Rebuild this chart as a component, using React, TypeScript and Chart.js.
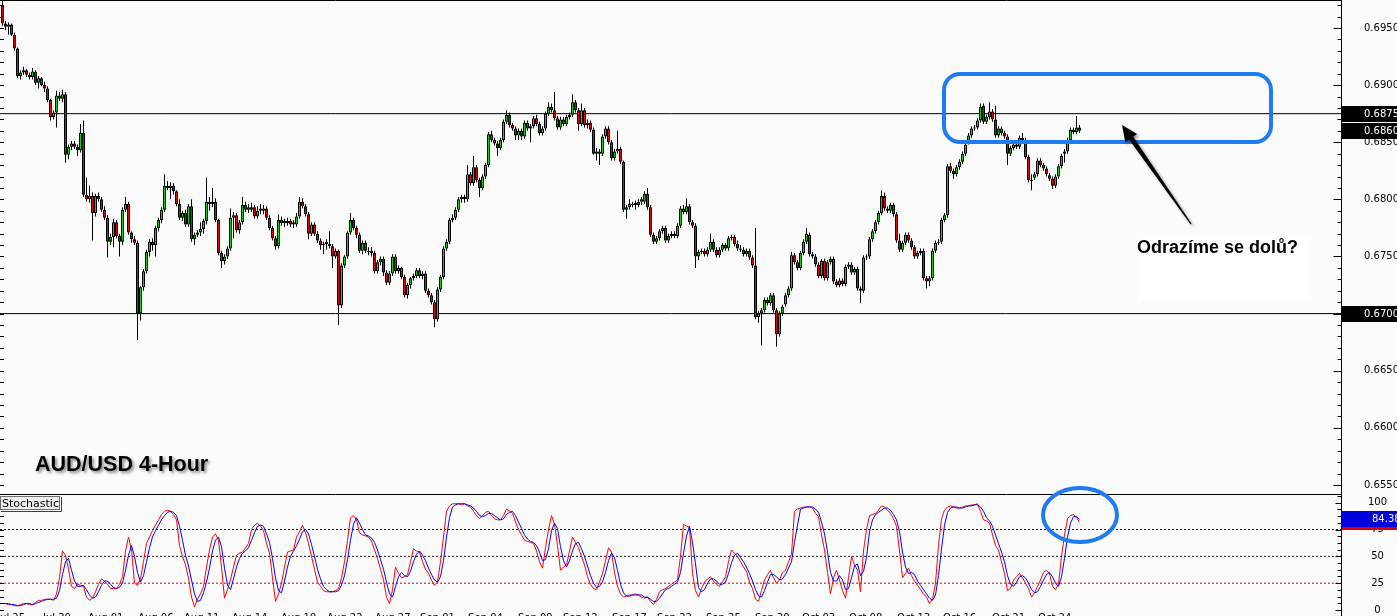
import React, { useEffect, useRef } from 'react';
import { Chart, registerables } from 'chart.js';

Chart.register(...registerables);

// ---------------- DATA ----------------
// AUD/USD 4-hour candles, prices in pips (value / 10000)
const openPips = [
  6970,6954,6951,6953,6944,6932,6908,6911,6913,6909,
  6907,6912,6902,6906,6900,6897,6887,6872,6876,6891,
  6888,6892,6839,6846,6849,6846,6843,6858,6804,6800,
  6803,6788,6803,6800,6791,6784,6763,6767,6780,6768,
  6763,6791,6796,6771,6765,6762,6700,6723,6737,6754,
  6763,6760,6775,6782,6791,6812,6810,6812,6807,6796,
  6784,6788,6778,6794,6765,6769,6771,6774,6781,6798,
  6796,6798,6782,6753,6746,6750,6757,
  6784,6786,6773,6780,6795,6791,6793,
  6793,6785,6790,6792,
  6792,6784,6775,6766,6759,6782,6779,6781,
  6781,6778,
  6778,6785,6798,6794,6787,6770,6778,6770,6764,6760,6761,
  6761,6759,6750,6755,6707,6742,6750,6771,6782,6775,6769,6755,6762,6755,
  6755,6753,6737,
  6745,6748,6736,6727,6735,6750,6737,6740,6732,6716,
  6725,6731,6733,6738,6733,6735,6720,6716,6710,6695,
  6721,6732,6757,6763,6782,6784,6791,6800,6802,6800,
  6822,6814,6828,6817,6810,6820,6830,6857,6852,6849,
  6845,6852,6868,6874,6865,6862,6856,6860,6855,6867,
  6862,6864,6871,6866,6858,6862,6875,6881,6878,6871,
  6863,6870,6866,6872,6874,6885,6878,6866,6878,6865,
  6867,6861,6840,6842,6840,6855,6862,6850,6836,6842,
  6844,6833,6791,6793,6796,6795,6795,6798,
  6798,6805,6793,6769,
  6763,6766,6772,6775,6764,6768,6770,6768,6777,6792,
  6789,6794,6780,6777,6750,6754,6755,6752,6756,6763,
  6756,6751,6756,6760,6757,6766,6767,6761,6757,6756,
  6752,6755,6749,6742,6697,6700,6703,6712,6709,6716,
  6703,6682,6700,
  6708,6716,6722,6751,6745,6740,6753,6763,
  6769,6752,6750,6743,6733,6746,6731,
  6745,6748,6728,6725,6729,6726,6741,6743,6736,6739,
  6722,6720,6749,6750,6765,6772,6780,6788,6803,6792,
  6790,6795,6787,6764,6756,6762,6769,6764,6758,6750,
  6753,6755,6731,6728,6731,6755,6762,6763,6782,6786,
  6829,6825,6822,6828,6833,6840,
  6850,6856,6862,6863,6869,
  6882,6868,6872,6877,6870,6856,6862,
  6858,6855,6840,6845,6848,6846,6854,6852,6837,6817,
  6819,6822,6834,6830,6827,
  6821,6818,6812,6820,6829,
  6840,6842,6852,6861,6859,6863,
];
const highPips = [
  6975,6956,6955,6954,6946,6933,6913,6916,6914,6911,
  6915,6913,6908,6907,6903,6899,6888,6878,6895,6894,
  6896,6894,6848,6851,6851,6848,6866,6869,6819,6812,
  6806,6805,6806,6802,6794,6786,6770,6783,6782,6770,
  6793,6802,6798,6772,6768,6764,6724,6739,6756,6765,
  6766,6777,6784,6793,6822,6816,6815,6814,6808,6800,
  6790,6791,6796,6800,6771,6773,6780,6783,6819,6802,
  6810,6801,6783,6755,6752,6759,6792,
  6789,6788,6782,6802,6798,6796,6797,
  6795,6794,6796,6795,
  6794,6786,6777,6768,6787,6785,6783,6784,
  6783,6782,
  6788,6802,6801,6796,6789,6780,6780,6772,6766,6763,6765,
  6772,6761,6757,6756,6744,6751,6772,6788,6784,6777,6771,6764,6764,6758,
  6758,6755,6747,
  6750,6750,6738,6737,6752,6752,6742,6741,6734,6727,
  6732,6735,6740,6740,6737,6737,6722,6718,6712,6723,
  6734,6759,6765,6784,6787,6793,6802,6804,6804,6830,
  6824,6838,6830,6819,6822,6832,6859,6860,6854,6851,
  6854,6870,6878,6876,6867,6864,6862,6862,6869,6869,
  6866,6873,6874,6868,6864,6877,6885,6884,6894,6873,
  6872,6872,6874,6876,6892,6887,6880,6884,6880,6870,
  6869,6863,6845,6844,6857,6864,6864,6852,6844,6860,
  6846,6834,6795,6800,6798,6799,6800,6802,
  6807,6810,6795,6771,
  6768,6774,6777,6777,6770,6772,6772,6779,6794,6795,
  6801,6796,6782,6779,6756,6757,6757,6758,6770,6765,
  6758,6758,6762,6762,6768,6769,6769,6764,6760,6758,
  6757,6757,6751,6775,6702,6705,6714,6714,6718,6718,
  6705,6702,6708,
  6718,6724,6754,6753,6747,6755,6765,6775,
  6771,6754,6752,6745,6748,6748,6747,
  6750,6750,6730,6731,6731,6743,6745,6745,6741,6741,
  6724,6751,6752,6767,6774,6782,6790,6808,6806,6794,
  6797,6797,6789,6770,6764,6771,6771,6766,6760,6755,
  6757,6757,6733,6733,6757,6764,6765,6784,6788,6831,
  6832,6827,6830,6835,6842,6850,
  6858,6864,6865,6871,6884,
  6884,6874,6885,6879,6882,6864,6864,
  6860,6857,6847,6850,6850,6856,6858,6854,6839,6822,
  6824,6836,6836,6832,6829,
  6823,6820,6822,6831,6840,
  6844,6854,6863,6863,6873,6865,
];
const lowPips = [
  6952,6948,6944,6943,6930,6906,6905,6909,6907,6905,
  6905,6900,6897,6899,6894,6885,6869,6870,6863,6886,
  6885,6832,6835,6843,6844,6838,6841,6802,6798,6797,
  6764,6785,6798,6789,6782,6749,6760,6758,6766,6750,
  6760,6789,6769,6762,6760,6677,6694,6720,6735,6750,
  6755,6750,6772,6779,6789,6808,6800,6804,6794,6782,
  6781,6776,6776,6763,6760,6767,6768,6770,6778,6790,
  6793,6780,6751,6740,6743,6748,6755,
  6766,6771,6770,6778,6789,6788,6789,
  6783,6783,6787,6787,
  6782,6773,6764,6756,6757,6777,6776,6777,
  6776,6775,
  6776,6783,6792,6785,6765,6768,6768,6762,6756,6752,6756,
  6757,6740,6748,6690,6705,6740,6748,6769,6773,6766,6753,6752,6753,6751,
  6750,6735,6735,
  6742,6733,6725,6725,6733,6735,6735,6730,6714,6713,
  6722,6729,6731,6731,6730,6718,6714,6708,6688,6693,
  6719,6730,6755,6761,6780,6782,6789,6797,6797,6798,
  6812,6812,6815,6802,6808,6818,6828,6850,6847,6838,
  6843,6850,6866,6863,6860,6852,6852,6852,6853,6860,
  6850,6862,6864,6856,6856,6860,6873,6876,6869,6861,
  6861,6864,6864,6870,6872,6876,6860,6864,6863,6862,
  6859,6839,6834,6830,6838,6853,6848,6834,6834,6840,
  6831,6789,6783,6791,6793,6791,6793,6795,
  6796,6791,6767,6761,
  6761,6764,6770,6762,6762,6766,6766,6766,6775,6787,
  6787,6778,6775,6740,6747,6752,6750,6750,6754,6754,
  6749,6749,6754,6755,6755,6764,6759,6755,6754,6750,
  6750,6747,6740,6695,6692,6672,6701,6707,6707,6701,
  6671,6680,6698,
  6706,6714,6720,6743,6738,6738,6751,6761,
  6750,6748,6741,6731,6731,6729,6729,
  6743,6726,6723,6723,6724,6724,6739,6734,6734,6720,
  6709,6718,6747,6748,6763,6770,6778,6786,6790,6788,
  6788,6785,6762,6754,6754,6760,6762,6756,6748,6748,
  6751,6729,6722,6724,6729,6753,6760,6761,6780,6784,
  6823,6818,6820,6826,6831,6838,
  6848,6854,6860,6861,6867,
  6866,6866,6870,6868,6854,6854,6856,
  6853,6830,6838,6843,6844,6844,6850,6835,6815,6808,
  6817,6820,6828,6825,6820,
  6816,6809,6810,6818,6827,
  6832,6840,6850,6857,6857,6858,
];
const closePips = [
  6954,6951,6953,6944,6932,6908,6911,6913,6909,6907,
  6912,6902,6906,6900,6897,6887,6872,6876,6891,6888,
  6892,6839,6846,6849,6846,6843,6858,6804,6800,6803,
  6788,6803,6800,6791,6784,6763,6767,6780,6768,6763,
  6791,6796,6771,6765,6762,6700,6723,6737,6754,6763,
  6760,6775,6782,6791,6812,6810,6812,6807,6796,6784,
  6788,6778,6794,6765,6769,6771,6774,6781,6798,6796,
  6798,6782,6753,6746,6750,6757,6784,
  6786,6773,6780,6795,6791,6793,6791,
  6785,6790,6792,6790,
  6784,6775,6766,6759,6782,6779,6781,6779,
  6778,6780,
  6785,6798,6794,6787,6770,6778,6770,6764,6760,6761,6763,
  6759,6750,6755,6707,6742,6750,6771,6782,6775,6769,6755,6762,6755,6754,
  6753,6737,6745,
  6748,6736,6727,6735,6750,6737,6740,6732,6716,6725,
  6731,6733,6738,6733,6735,6720,6716,6710,6695,6721,
  6732,6757,6763,6782,6784,6791,6800,6802,6800,6822,
  6814,6828,6817,6810,6820,6830,6857,6852,6849,6845,
  6852,6868,6874,6865,6862,6856,6860,6855,6867,6862,
  6864,6871,6866,6858,6862,6875,6881,6878,6871,6863,
  6870,6866,6872,6874,6885,6878,6866,6878,6865,6867,
  6861,6840,6842,6840,6855,6862,6850,6836,6842,6844,
  6833,6791,6793,6796,6795,6797,6798,6800,
  6805,6793,6769,6763,
  6766,6772,6775,6764,6768,6770,6768,6777,6792,6789,
  6794,6780,6777,6750,6754,6755,6752,6756,6763,6756,
  6751,6756,6760,6757,6766,6767,6761,6757,6756,6752,
  6755,6749,6742,6697,6700,6703,6712,6709,6716,6703,
  6682,6700,6706,
  6716,6722,6751,6745,6740,6753,6763,6770,
  6752,6750,6743,6733,6746,6731,6745,
  6748,6728,6725,6729,6726,6741,6743,6736,6739,6722,
  6720,6749,6750,6765,6772,6780,6788,6803,6792,6790,
  6795,6787,6764,6756,6762,6769,6764,6758,6750,6753,
  6755,6731,6728,6731,6755,6762,6763,6782,6786,6829,
  6825,6822,6828,6833,6840,6848,
  6856,6862,6863,6869,6881,
  6868,6872,6877,6870,6856,6862,6858,
  6855,6840,6845,6848,6846,6854,6852,6837,6817,6816,
  6822,6834,6830,6827,6822,
  6818,6812,6820,6829,6838,
  6842,6852,6861,6859,6863,6860,
];

// Stochastic oscillator (%K main = red, %D signal = blue)
const stochMain = [
  6,6,5,5,4,4,5,6,6,5,
  5,7,9,9,10,10,10,9,15,30,
  55,51,38,22,20,24,23,22,12,9,
  11,17,24,29,27,24,20,20,20,24,
  31,55,68,56,25,23,29,45,62,68,
  74,79,84,89,92,93,92,89,84,60,
  50,42,30,12,3,10,15,22,40,56,
  68,71,65,40,11,19,28,40,51,53,
  54,58,62,75,79,81,78,74,62,53,
  30,8,15,25,40,54,55,56,68,73,
  79,72,62,50,38,26,22,18,17,17,
  17,18,20,30,45,65,86,88,84,72,
  70,69,68,64,56,48,38,28,12,6,
  19,40,34,30,31,33,45,57,55,54,
  45,38,34,28,23,26,45,68,92,97,
  99,99,99,98,99,97,96,92,88,85,
  88,91,92,88,85,84,84,88,94,92,
  90,82,75,70,65,64,63,62,55,45,
  39,58,75,88,80,60,37,40,42,55,
  68,63,58,50,42,31,24,20,19,26,
  34,46,58,54,35,22,15,12,13,14,
  14,15,14,12,11,12,8,5,10,17,
  19,20,22,24,26,28,50,80,78,77,
  34,18,12,20,26,29,31,27,24,22,
  26,31,45,56,53,50,45,40,36,26,
  20,10,8,18,28,33,37,30,25,28,
  35,37,45,52,92,94,95,96,96,96,
  95,90,87,70,56,35,15,30,37,28,
  18,11,30,50,42,37,17,55,75,88,
  89,90,93,97,96,93,90,85,78,55,
  30,34,39,32,27,23,19,15,12,6,
  10,25,60,85,93,96,97,96,95,95,
  96,97,97,98,98,99,92,84,83,81,
  70,60,56,45,34,18,20,28,31,34,
  30,25,20,12,16,22,28,35,37,34,
  22,19,24,50,70,85,88,89,86,82,
];
const stochSignal = [
  6,6,6,5,5,4,4,5,6,6,
  5,6,7,8,9,10,10,10,11,18,
  33,45,48,37,27,22,22,23,19,14,
  11,12,17,23,27,27,24,21,20,21,
  25,37,51,60,50,35,26,32,45,58,
  68,74,79,84,88,91,92,91,88,78,
  65,51,41,28,15,8,9,16,26,39,
  55,65,68,59,39,23,19,29,40,48,
  53,55,58,65,72,78,79,78,71,63,
  48,30,18,16,27,40,50,55,60,66,
  73,75,71,61,50,38,29,22,19,17,
  17,17,18,23,32,47,65,80,86,81,
  75,70,69,67,63,56,47,38,26,15,
  12,22,31,35,32,31,36,45,52,55,
  51,46,39,33,28,26,31,46,68,86,
  96,98,99,99,99,98,97,95,92,88,
  87,88,90,90,88,86,84,85,89,91,
  92,88,82,76,70,66,64,63,60,54,
  46,47,57,74,81,76,59,46,40,46,
  55,62,63,57,50,41,32,25,21,22,
  26,35,46,53,49,37,24,16,13,13,
  14,14,14,14,12,12,10,8,8,11,
  15,19,20,22,24,26,35,53,69,78,
  63,43,21,17,19,25,29,29,27,24,
  24,26,34,44,51,53,49,45,40,34,
  27,19,13,12,18,26,33,33,31,28,
  29,33,39,45,63,79,94,95,96,96,
  96,94,91,82,71,54,35,27,27,32,
  28,19,20,30,41,43,32,36,49,73,
  84,89,91,93,95,95,93,89,84,73,
  54,40,34,35,33,27,23,19,15,11,
  9,14,32,57,79,91,95,96,96,95,
  95,96,97,97,98,98,96,92,86,83,
  78,70,62,54,45,32,24,22,26,31,
  32,30,25,19,16,17,22,28,33,35,
  31,25,22,31,48,68,81,87,87,84.38,
];

const priceTicks = [0.655, 0.66, 0.665, 0.67, 0.675, 0.68, 0.685, 0.69, 0.695];
const priceLevels = [0.6875, 0.67];
const priceMarkers = [0.6875, 0.686, 0.67];
const stochLevels = [75, 50, 25];
const stochTicks = [0, 25, 50, 75, 100];
const dateLabels = ['Jul 25','Jul 30','Aug 01','Aug 06','Aug 11','Aug 14','Aug 19','Aug 22','Aug 27','Sep 01','Sep 04','Sep 09','Sep 12','Sep 17','Sep 22','Sep 25','Sep 30','Oct 03','Oct 08','Oct 13','Oct 16','Oct 21','Oct 24'];
const dateLabelBars = [-1.8,13.5,28.5,45.2,60.5,76.5,92.8,108.2,124.2,139.2,155.2,171.8,186.8,203.2,218.2,234.5,250.8,266.5,282.2,298.2,313.5,329.8,345.2];

// ---------------- LAYOUT / STYLE ----------------
const W = 1397;
const MAIN_H = 494;
const STOCH_TOP = 480;
const STOCH_H = 136;
const AXIS_X = 1341;
const BAR_PX = 3;
const FIRST_PX = 2.5;
const X_MIN = -FIRST_PX / BAR_PX;
const X_MAX = X_MIN + AXIS_X / BAR_PX;
const PRICE_MIN = 0.65421;
const PRICE_MAX = 0.69745;
const STOCH_MAX = 108.1;
const BULL = '#00dd00';
const BEAR = '#ee0000';
const HILITE = '#1f7bf2';
const LEVEL_STYLE: Record<number, string> = { 75: '#0000c8', 50: '#222222', 25: '#c80000' };
const AXIS_FONT = { family: '"DejaVu Sans", sans-serif', size: 10 };

Chart.defaults.font.family = '"DejaVu Sans", sans-serif';

const toPrice = (p: number) => p / 10000;

const mainDecor = {
  id: 'mainDecor',
  afterDraw(chart: any) {
    const ctx = chart.ctx as CanvasRenderingContext2D;
    const ys = chart.scales.y;
    ctx.save();
    ctx.strokeStyle = '#000';
    ctx.lineWidth = 1;
    ctx.beginPath();
    ctx.moveTo(0, 0.5); ctx.lineTo(AXIS_X + 1, 0.5);
    ctx.moveTo(AXIS_X + 0.5, 0); ctx.lineTo(AXIS_X + 0.5, MAIN_H);
    for (let k = Math.ceil(PRICE_MIN * 1000); k <= Math.floor(PRICE_MAX * 1000); k++) {
      const y = Math.round(ys.getPixelForValue(k / 1000)) + 0.5;
      const len = k % 5 === 0 ? 8 : 4;
      ctx.moveTo(AXIS_X + 0.5 - len, y); ctx.lineTo(AXIS_X + 0.5, y);
      ctx.moveTo(0, y); ctx.lineTo(4, y);
    }
    ctx.stroke();

    // price markers on right axis
    ctx.font = '10px "DejaVu Sans", sans-serif';
    ctx.textBaseline = 'middle';
    ctx.textAlign = 'left';
    priceMarkers.forEach((v) => {
      const y = Math.round(ys.getPixelForValue(v));
      ctx.fillStyle = '#000';
      ctx.fillRect(AXIS_X + 1, y - 8, W - AXIS_X, 16);
      ctx.fillStyle = '#fff';
      ctx.fillText(v.toFixed(4), 1364, y + 0.5);
    });

    // title
    ctx.save();
    ctx.font = 'bold 21.5px "Liberation Sans", Arial, sans-serif';
    ctx.shadowColor = 'rgba(0,0,0,0.45)';
    ctx.shadowBlur = 3;
    ctx.shadowOffsetX = 2;
    ctx.shadowOffsetY = 2;
    ctx.fillStyle = '#000';
    ctx.textBaseline = 'alphabetic';
    ctx.fillText('AUD/USD 4-Hour', 35, 471);
    ctx.restore();

    // highlight box
    ctx.strokeStyle = HILITE;
    ctx.lineWidth = 4;
    ctx.beginPath();
    (ctx as any).roundRect(944, 74, 327, 68, 16);
    ctx.stroke();

    // arrow
    ctx.save();
    ctx.shadowColor = 'rgba(0,0,0,0.4)';
    ctx.shadowBlur = 3;
    ctx.shadowOffsetX = 2;
    ctx.shadowOffsetY = 2;
    ctx.fillStyle = '#000';
    ctx.beginPath();
    ctx.moveTo(1122, 125);
    ctx.lineTo(1137, 134);
    ctx.lineTo(1133.2, 136.7);
    ctx.lineTo(1191.6, 223.7);
    ctx.lineTo(1190.6, 224.4);
    ctx.lineTo(1129.1, 139.5);
    ctx.lineTo(1125.3, 142.3);
    ctx.closePath();
    ctx.fill();
    ctx.restore();

    // text box
    ctx.fillStyle = '#ffffff';
    ctx.fillRect(1138, 233, 173, 67);
    ctx.fillStyle = '#000';
    ctx.font = 'bold 18px "Liberation Sans", Arial, sans-serif';
    ctx.textBaseline = 'alphabetic';
    ctx.fillText('Odrazíme se dolů?', 1137, 253);
    ctx.restore();
  },
};

const stochDecor = {
  id: 'stochDecor',
  afterDraw(chart: any) {
    const ctx = chart.ctx as CanvasRenderingContext2D;
    const ys = chart.scales.y;
    const top = chart.chartArea.top;
    ctx.save();
    ctx.strokeStyle = '#000';
    ctx.lineWidth = 1;
    ctx.beginPath();
    ctx.moveTo(0, top + 0.5); ctx.lineTo(AXIS_X + 1, top + 0.5);
    ctx.moveTo(AXIS_X + 0.5, top); ctx.lineTo(AXIS_X + 0.5, STOCH_H);
    for (let v = 0; v <= STOCH_MAX; v += 6.25) {
      const y = Math.round(ys.getPixelForValue(v)) + 0.5;
      const len = v % 25 === 0 ? 6 : 4;
      ctx.moveTo(AXIS_X + 0.5 - len, y); ctx.lineTo(AXIS_X + 0.5, y);
      ctx.moveTo(0, y); ctx.lineTo(4, y);
    }
    ctx.stroke();

    // indicator name box
    ctx.fillStyle = '#f0f0f0';
    ctx.fillRect(0, top + 2, 60, 14);
    ctx.strokeStyle = '#707070';
    ctx.strokeRect(0.5, top + 2.5, 59, 13);
    ctx.strokeStyle = '#404040';
    ctx.beginPath();
    ctx.moveTo(61.5, top + 3); ctx.lineTo(61.5, top + 17.5); ctx.lineTo(1, top + 17.5);
    ctx.stroke();
    ctx.fillStyle = '#000';
    ctx.font = '11px "DejaVu Sans", sans-serif';
    ctx.textBaseline = 'alphabetic';
    ctx.textAlign = 'left';
    ctx.fillText('Stochastic', 2, top + 13);

    // current values
    const lastK = stochMain[stochMain.length - 1];
    const lastD = stochSignal[stochSignal.length - 1];
    ctx.font = '10px "DejaVu Sans", sans-serif';
    ctx.textBaseline = 'middle';
    const yk = Math.round(ys.getPixelForValue(lastK));
    ctx.fillStyle = '#dd0000';
    ctx.fillRect(AXIS_X + 1, yk - 8, W - AXIS_X, 16);
    ctx.fillStyle = '#fff';
    ctx.fillText(lastK.toFixed(2), 1372, yk + 0.5);
    const yd = Math.round(ys.getPixelForValue(lastD));
    ctx.fillStyle = '#0000dd';
    ctx.fillRect(AXIS_X + 1, yd - 8, W - AXIS_X, 16);
    ctx.fillStyle = '#fff';
    ctx.fillText(lastD.toFixed(2), 1372, yd + 0.5);

    // highlight ellipse
    ctx.strokeStyle = HILITE;
    ctx.lineWidth = 4;
    ctx.beginPath();
    ctx.ellipse(1080, 515 - STOCH_TOP, 37, 27, 0, 0, Math.PI * 2);
    ctx.stroke();
    ctx.restore();
  },
};

function buildMainConfig(): any {
  const idx = closePips.map((_, i) => i);
  const bodies = idx.map((i) => ({ x: i, y: [toPrice(openPips[i]), toPrice(closePips[i])] }));
  const wicks = idx.map((i) => ({ x: i, y: [toPrice(lowPips[i]), toPrice(highPips[i])] }));
  const colors = idx.map((i) => (closePips[i] >= openPips[i] ? BULL : BEAR));
  return {
    type: 'bar',
    data: {
      datasets: [
        {
          type: 'bar', data: bodies, backgroundColor: colors, borderColor: '#000', borderWidth: 1,
          borderSkipped: false, barThickness: 3, grouped: false, inflateAmount: 0, order: 0,
        },
        {
          type: 'bar', data: wicks, backgroundColor: '#000', borderWidth: 0,
          barThickness: 1, grouped: false, inflateAmount: 0, order: 1,
        },
        ...priceLevels.map((v) => ({
          type: 'line', data: [{ x: X_MIN, y: v }, { x: X_MAX, y: v }], borderColor: '#000',
          borderWidth: 1, pointRadius: 0, order: 2,
        })),
      ],
    },
    options: {
      responsive: false, animation: false, events: [],
      layout: { padding: 0 },
      plugins: { legend: { display: false }, tooltip: { enabled: false } },
      scales: {
        x: { type: 'linear', min: X_MIN, max: X_MAX, display: false, offset: false },
        y: {
          type: 'linear', position: 'right', min: PRICE_MIN, max: PRICE_MAX, beginAtZero: false,
          grid: { display: false, drawTicks: false }, border: { display: false },
          afterBuildTicks: (s: any) => { s.ticks = priceTicks.map((v) => ({ value: v })); },
          afterFit: (s: any) => { s.width = W - AXIS_X; s.paddingTop = 0; s.paddingBottom = 0; },
          ticks: { padding: 23, color: '#000', font: AXIS_FONT, callback: (v: any) => Number(v).toFixed(4) },
        },
      },
    },
    plugins: [mainDecor],
  };
}

function buildStochConfig(): any {
  const idx = stochMain.map((_, i) => i);
  return {
    type: 'line',
    data: {
      datasets: [
        { data: idx.map((i) => ({ x: i, y: stochSignal[i] })), borderColor: '#0000ff', borderWidth: 1, pointRadius: 0, tension: 0, order: 0 },
        { data: idx.map((i) => ({ x: i, y: stochMain[i] })), borderColor: '#ff0000', borderWidth: 1, pointRadius: 0, tension: 0, order: 1 },
        ...stochLevels.map((v) => ({
          data: [{ x: X_MIN, y: v }, { x: X_MAX, y: v }], borderColor: LEVEL_STYLE[v], borderWidth: 1,
          borderDash: [2, 2], pointRadius: 0, order: 2,
        })),
      ],
    },
    options: {
      responsive: false, animation: false, events: [],
      layout: { padding: { top: MAIN_H - STOCH_TOP, left: 0, right: 0, bottom: 0 } },
      plugins: { legend: { display: false }, tooltip: { enabled: false } },
      scales: {
        x: {
          type: 'linear', min: X_MIN, max: X_MAX, offset: false,
          grid: { display: false, drawTicks: false }, border: { display: false },
          afterBuildTicks: (s: any) => { s.ticks = dateLabelBars.map((v) => ({ value: v })); },
          afterFit: (s: any) => { s.height = 6; s.paddingLeft = 0; s.paddingRight = 0; },
          ticks: {
            autoSkip: false, maxRotation: 0, minRotation: 0, align: 'start', padding: 2,
            color: '#000', font: AXIS_FONT, callback: (_v: any, i: number) => dateLabels[i] ?? '',
          },
        },
        y: {
          type: 'linear', position: 'right', min: 0, max: STOCH_MAX,
          grid: { display: false, drawTicks: false }, border: { display: false },
          afterBuildTicks: (s: any) => { s.ticks = stochTicks.map((v) => ({ value: v })); },
          afterFit: (s: any) => { s.width = W - AXIS_X; s.paddingTop = 0; s.paddingBottom = 0; },
          ticks: { padding: 27, crossAlign: 'center', color: '#000', font: AXIS_FONT, callback: (v: any) => String(v) },
        },
      },
    },
    plugins: [stochDecor],
  };
}

export default function App() {
  const mainRef = useRef<HTMLCanvasElement>(null);
  const stochRef = useRef<HTMLCanvasElement>(null);

  useEffect(() => {
    document.body.style.margin = '0';
    const main = new Chart(mainRef.current as HTMLCanvasElement, buildMainConfig());
    const stoch = new Chart(stochRef.current as HTMLCanvasElement, buildStochConfig());
    return () => {
      main.destroy();
      stoch.destroy();
    };
  }, []);

  return (
    <div style={{ position: 'absolute', left: 0, top: 0, width: W, height: 616, background: '#fbfbfb', overflow: 'hidden' }}>
      <canvas ref={mainRef} width={W} height={MAIN_H} style={{ position: 'absolute', left: 0, top: 0, width: W, height: MAIN_H }} />
      <canvas ref={stochRef} width={W} height={STOCH_H} style={{ position: 'absolute', left: 0, top: STOCH_TOP, width: W, height: STOCH_H }} />
    </div>
  );
}
